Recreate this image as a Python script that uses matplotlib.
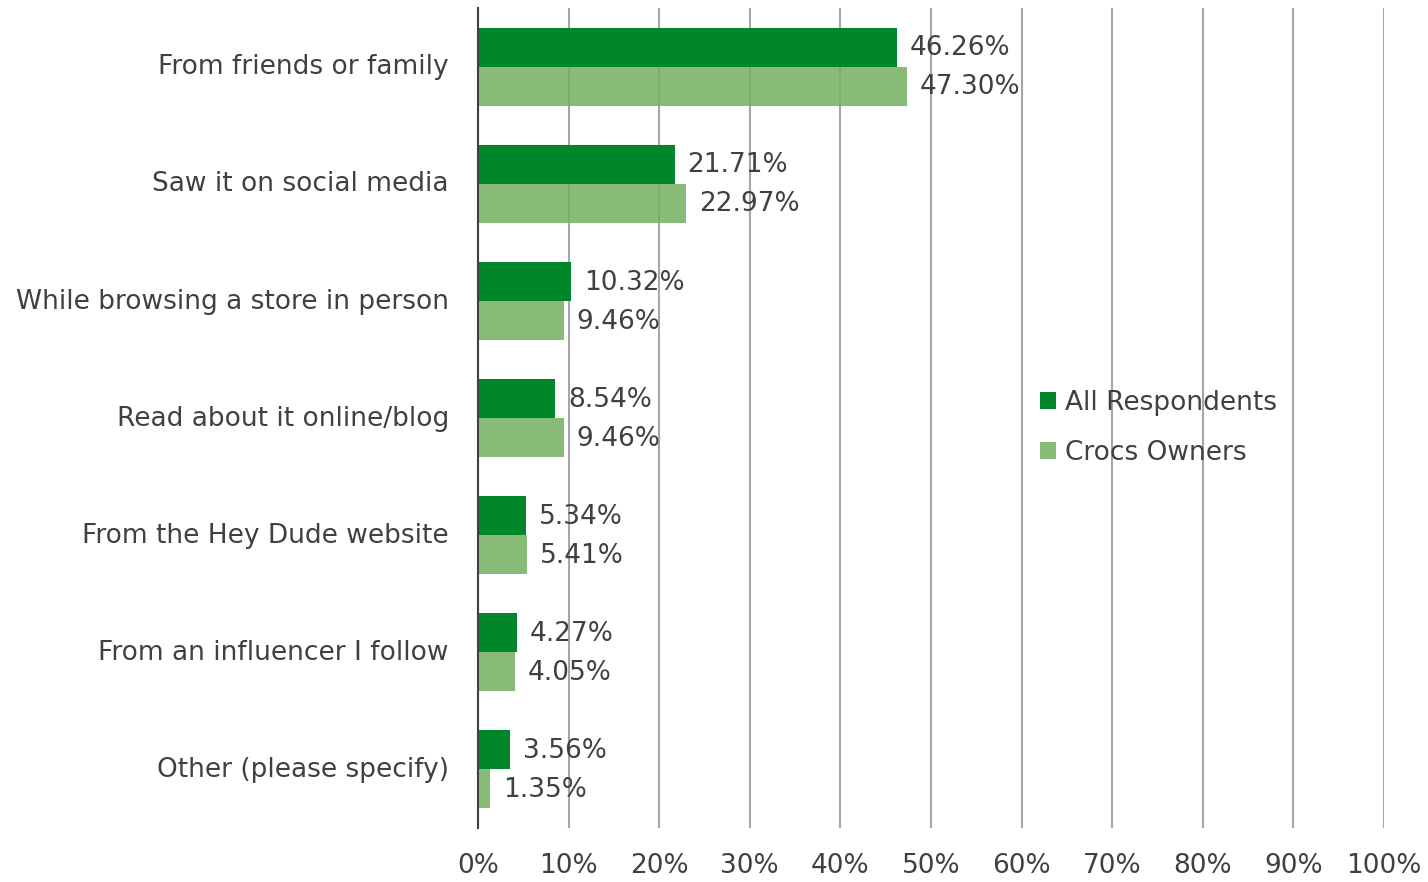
import matplotlib.pyplot as plt
import numpy as np

categories = ["From friends or family", "Saw it on social media",
              "While browsing a store in person", "Read about it online/blog",
              "From the Hey Dude website", "From an influencer I follow",
              "Other (please specify)"]
all_resp = [46.26, 21.71, 10.32, 8.54, 5.34, 4.27, 3.56]
crocs = [47.30, 22.97, 9.46, 9.46, 5.41, 4.05, 1.35]
xticks = list(range(0, 101, 10))

dark = '#00862B'
light = '#73B060'   # drawn with alpha -> looks like #88BC78 on white
txt = '#404040'
fs = 19

fig = plt.figure(figsize=(14.28, 8.82), dpi=100)
ax = fig.add_axes([478/1428, 1 - 828/882, 906/1428, 820/882])

y = np.arange(len(categories))
h = 0.333
b1 = ax.barh(y - h/2, all_resp, height=h, color=dark, label='All Respondents', zorder=2)
b2 = ax.barh(y + h/2, crocs, height=h, color=light, alpha=0.85,
             label='Crocs Owners', zorder=2)

for rects, vals in [(b1, all_resp), (b2, crocs)]:
    for r, v in zip(rects, vals):
        ax.text(v + 1.4, r.get_y() + r.get_height()/2 + 0.01, f"{v:.2f}%",
                va='center', ha='left', fontsize=fs, color=txt, zorder=4)

ax.set_xlim(0, 100)
ax.set_ylim(len(categories) - 0.5, -0.5)
ax.set_xticks(xticks)
ax.set_xticklabels([f"{t}%" for t in xticks])
ax.set_yticks(y - 0.02)
ax.set_yticklabels(categories)
ax.xaxis.grid(True, color='#A6A6A6', linewidth=1.5, zorder=1)
ax.set_axisbelow(True)
ax.tick_params(axis='x', length=0, pad=18, labelsize=fs, labelcolor=txt)
ax.tick_params(axis='y', length=0, pad=21, labelsize=fs, labelcolor=txt)
for s in ['top', 'right', 'bottom']:
    ax.spines[s].set_visible(False)
ax.spines['left'].set_color('#404040')
ax.spines['left'].set_linewidth(1.5)
ax.spines['left'].set_zorder(5)

leg = ax.legend(loc='upper left', bbox_to_anchor=(1040/1428, 1 - 390/882),
                bbox_transform=fig.transFigure, frameon=False, fontsize=fs,
                handlelength=0.6, handleheight=0.6, handletextpad=0.35,
                labelspacing=0.9, borderpad=0, borderaxespad=0)
for t in leg.get_texts():
    t.set_color(txt)

fig.savefig('out.png', dpi=100)
